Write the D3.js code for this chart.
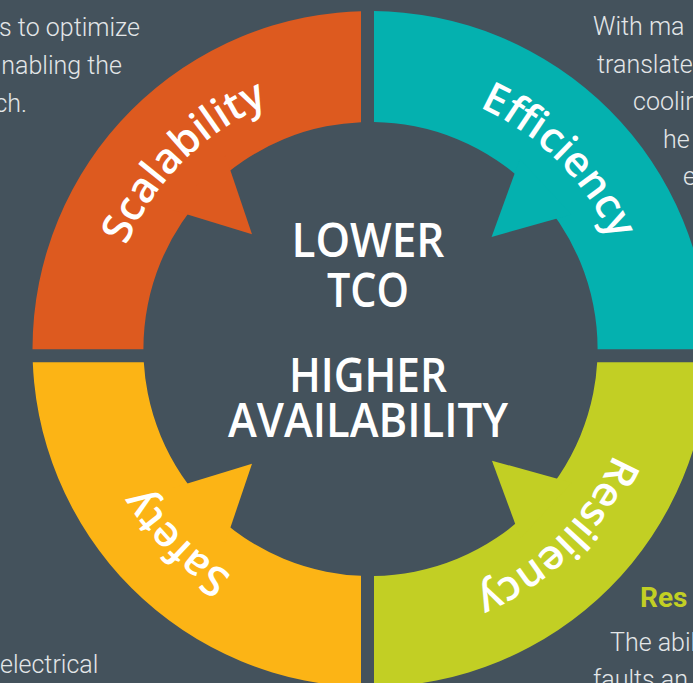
<!DOCTYPE html>
<html>
<head>
<meta charset="utf-8">
<script src="https://cdn.jsdelivr.net/npm/d3@7"></script>
<style>
  html, body { margin: 0; padding: 0; background: #44525c; overflow: hidden; }
  #graph svg { display: block; }
</style>
</head>
<body>
<div id="graph"></div>
<script>
"use strict";

// ring segments, clockwise from the top-left quadrant
const segments = ["Scalability", "Efficiency", "Resiliency", "Safety"];
const segmentColors = ["#dd5a1f", "#04b1af", "#c2cf24", "#fcb415"];
// where each inward arrow points (degrees, clockwise from 12 o'clock)
const tipAngles = [-45.9, 47.2, 132.6, 225.9];

const centerLines = ["LOWER", "TCO", "HIGHER", "AVAILABILITY"];

// bits of the surrounding copy that show inside the crop
const topLeftText = ["s to optimize", "nabling the", "ch."];
const topRightText = ["With ma", "translate", "coolir", "he", "e"];
const bottomRightTitle = "Res";
const bottomRightText = ["The abil", "faults an"];
const bottomLeftText = ["electrical"];

(function() {
    const svgSize = {
        width : 693,
        height: 683,
    };
    const bg = "#44525c";
    const ring = { cx: 370.5, cy: 349, inner: 227, outer: 338, textR: 265 };
    const gap = { x: 367.5, y: 355.8, half: 6.5 };
    const barb = { spread: 7.7, baseR: 226, tipR: 165 };

    window.addEventListener("load", init);

    function init() {
        let svg = d3.select("#graph")
                    .append("svg")
                        .attr("width", svgSize.width)
                        .attr("height", svgSize.height);

        svg.append("rect")
            .attr("width", svgSize.width)
            .attr("height", svgSize.height)
            .attr("fill", bg);

        drawRing(svg);
        drawCenter(svg);
        drawCopy(svg);
    }

    function drawRing(svg) {
        let defs = svg.append("defs");
        let rad = Math.PI / 180;

        // quadrant boxes, split by the gap strips
        let boxes = [
            [0, 0, gap.x - gap.half, gap.y - gap.half],
            [gap.x + gap.half, 0, svgSize.width, gap.y - gap.half],
            [gap.x + gap.half, gap.y + gap.half, svgSize.width, svgSize.height],
            [0, gap.y + gap.half, gap.x - gap.half, svgSize.height],
        ];

        boxes.forEach(function(d, i) {
            defs.append("clipPath")
                .attr("id", "quad" + i)
                .append("rect")
                    .attr("x", d[0])
                    .attr("y", d[1])
                    .attr("width", d[2] - d[0])
                    .attr("height", d[3] - d[1]);
        });

        let ringArc = d3.arc()
                        .innerRadius(ring.inner)
                        .outerRadius(ring.outer)
                        .startAngle(0)
                        .endAngle(2 * Math.PI);

        let g = svg.append("g");

        g.selectAll("g.seg")
            .data(segments)
            .enter()
            .append("g")
                .attr("class", "seg")
                .attr("clip-path", (d, i) => "url(#quad" + i + ")")
            .append("path")
                .attr("d", ringArc())
                .attr("transform", "translate(" + ring.cx + "," + ring.cy + ")")
                .attr("fill", (d, i) => segmentColors[i]);

        // inward pointing arrow on each segment
        function pt(angle, r) {
            return [ring.cx + r * Math.sin(angle * rad), ring.cy - r * Math.cos(angle * rad)];
        }
        g.selectAll("path.barb")
            .data(tipAngles)
            .enter()
            .append("path")
                .attr("class", "barb")
                .attr("fill", (d, i) => segmentColors[i])
                .attr("d", function(a) {
                    let tip = pt(a, barb.tipR);
                    let p1 = pt(a - barb.spread, barb.baseR);
                    let p2 = pt(a + barb.spread, barb.baseR);
                    // push the base into the ring so no sliver shows
                    let ext = p => [tip[0] + (p[0] - tip[0]) * 1.25, tip[1] + (p[1] - tip[1]) * 1.25];
                    return d3.line()([tip, ext(p1), ext(p2)]) + "Z";
                });

        // labels run clockwise along one circle
        let r = ring.textR;
        let circ = 2 * Math.PI * r;
        defs.append("path")
            .attr("id", "labelPath")
            .attr("d", "M" + ring.cx + "," + (ring.cy - r) +
                       " A" + r + "," + r + " 0 1 1 " + ring.cx + "," + (ring.cy + r) +
                       " A" + r + "," + r + " 0 1 1 " + ring.cx + "," + (ring.cy - r));

        g.selectAll("text.label")
            .data(segments)
            .enter()
            .append("text")
                .attr("class", "label")
                .attr("fill", "#ffffff")
                .attr("font-family", "'Open Sans', 'Noto Sans', sans-serif")
                .attr("font-weight", 600)
                .attr("font-size", 42)
            .append("textPath")
                .attr("href", "#labelPath")
                .attr("text-anchor", "middle")
                .attr("startOffset", (d, i) => (((i * 90 - 45) + 360) % 360) / 360 * circ)
                .text(d => d);
    }

    function drawCenter(svg) {
        let baselines = [256.7, 306.7, 391.7, 436.7];
        let widths = [153, 82, 158, 280];
        svg.append("g")
            .selectAll("text")
            .data(centerLines)
            .enter()
            .append("text")
                .attr("x", 368)
                .attr("y", (d, i) => baselines[i])
                .attr("text-anchor", "middle")
                .attr("fill", "#ffffff")
                .attr("font-family", "'Open Sans', 'Noto Sans', sans-serif")
                .attr("font-weight", 600)
                .attr("font-size", 47)
                .attr("textLength", (d, i) => widths[i])
                .attr("lengthAdjust", "spacingAndGlyphs")
                .text(d => d);
    }

    function drawCopy(svg) {
        let g = svg.append("g")
                    .attr("fill", "#e3e6e8")
                    .attr("font-family", "Roboto, 'Noto Sans', sans-serif")
                    .attr("font-weight", 300)
                    .attr("font-size", 25);

        let tlEnds = [140, 122, 27];
        g.selectAll("text.tl")
            .data(topLeftText)
            .enter()
            .append("text")
                .attr("class", "tl")
                .attr("x", (d, i) => tlEnds[i])
                .attr("y", (d, i) => 36 + i * 38)
                .attr("text-anchor", "end")
                .text(d => d);

        let trStarts = [593, 597, 633, 663, 683];
        g.selectAll("text.tr")
            .data(topRightText)
            .enter()
            .append("text")
                .attr("class", "tr")
                .attr("x", (d, i) => trStarts[i])
                .attr("y", (d, i) => 35 + i * 37.5)
                .text(d => d);

        g.append("text")
            .attr("x", 640)
            .attr("y", 606.5)
            .attr("fill", segmentColors[2])
            .attr("font-weight", 700)
            .attr("font-size", 28)
            .text(bottomRightTitle);

        let brStarts = [610, 593];
        g.selectAll("text.br")
            .data(bottomRightText)
            .enter()
            .append("text")
                .attr("class", "br")
                .attr("x", (d, i) => brStarts[i])
                .attr("y", (d, i) => 650.5 + i * 37.5)
                .text(d => d);

        g.selectAll("text.bl")
            .data(bottomLeftText)
            .enter()
            .append("text")
                .attr("class", "bl")
                .attr("x", 0)
                .attr("y", 672.5)
                .text(d => d);
    }

})();
</script>
</body>
</html>
